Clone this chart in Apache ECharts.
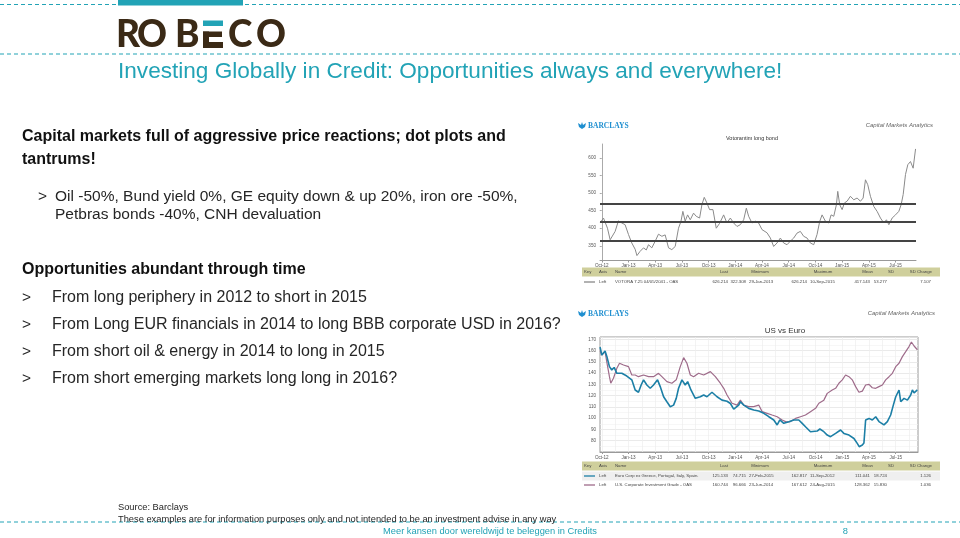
<!DOCTYPE html>
<html><head><meta charset="utf-8">
<script src="https://cdn.jsdelivr.net/npm/echarts@6/dist/echarts.min.js"></script>
<style>html,body{margin:0;padding:0;background:#fff}#c{width:960px;height:538px}</style>
</head><body><div id="c"></div><script>
// x values are months since 1-Oct-2012
const quarterLabels = ['Oct-12','Jan-13','Apr-13','Jul-13','Oct-13','Jan-14','Apr-14','Jul-14','Oct-14','Jan-15','Apr-15','Jul-15'];
const quarterPos = [0,3,6,9,12,15,18,21,24,27,30,33];

// Votorantim long bond (VOTORA 7.25 04/05/2041 - OAS)
const vtX = [-0.19,0.19,0.37,0.64,0.94,1.12,1.5,1.87,2.25,2.62,3.0,3.37,3.75,3.95,4.3,4.69,5.0,5.25,5.62,6.0,6.37,6.75,7.12,7.5,7.87,8.25,8.62,8.89,9.11,9.37,9.64,9.94,10.31,10.61,10.99,11.25,11.51,11.81,12.11,12.49,12.86,13.24,13.69,14.06,14.44,14.81,15.19,15.56,15.94,16.24,16.5,16.87,17.25,17.62,18.0,18.56,18.94,19.31,19.69,20.06,20.43,20.81,21.18,21.56,21.93,22.31,22.68,23.06,23.43,23.81,24.18,24.48,24.75,25.12,25.5,25.76,26.06,26.36,26.51,26.73,27.0,27.26,27.56,27.93,28.31,28.68,29.06,29.36,29.62,29.88,30.18,30.56,30.93,31.31,31.68,31.98,32.25,32.62,33.0,33.37,33.63,33.86,34.12,34.38,34.68,34.98,35.25];
const vtY = [415,429,424,400,367,372,391,421,415,410,382,358,340,322,334,344,338,353,344,363,383,377,381,344,339,348,400,419,448,420,438,424,443,434,429,467,488,472,453,453,400,414,438,415,429,415,405,410,424,457,434,415,420,415,396,387,372,348,358,372,358,353,363,372,386,391,377,372,358,353,382,419,438,420,415,438,434,467,505,467,453,472,477,491,481,486,477,486,538,524,491,462,448,429,415,424,410,429,438,448,467,496,553,581,590,571,626];
const vtMean = 417.143, vtSD = 53.277;

// US vs Euro
const euX = [-0.19,0,0.19,0.37,0.56,0.86,1.12,1.39,1.69,2.25,2.81,3.37,3.75,4.12,4.42,4.69,5.06,5.44,5.81,6.26,6.56,6.94,7.31,7.69,8.06,8.36,8.62,9.0,9.37,9.64,10.01,10.5,11.06,11.44,11.81,12.37,12.94,13.5,14.06,14.44,14.81,15.0,15.37,15.56,15.94,16.5,17.06,17.62,18.19,18.75,19.31,19.69,19.99,20.43,21.0,21.56,22.12,22.5,22.87,23.43,24.18,24.48,24.93,25.31,25.68,26.25,26.81,27.18,27.75,28.31,28.68,28.9,29.25,29.43,29.62,30.0,30.37,30.75,31.12,31.68,32.06,32.43,32.73,33.0,33.37,33.56,33.93,34.31,34.68,34.87,35.06,35.43];
const euY = [163,156,157.6,159.6,155,145.7,142.8,145,139.8,139.8,137.4,134,125,123,129.4,134,129.4,126.5,129.4,134,128,119,114.6,110.2,111.6,117.6,126.5,134,129.4,132.4,125,117.6,119,120.6,119,123,119,116,115,113,108,107.2,111.6,114.6,111.6,108.7,107.2,106.4,104.3,101.3,98.4,94,98.4,95.4,96.9,98.4,98.4,95.4,92.4,88,88.6,90.4,88,85,83.6,86.5,89.5,86.5,85,82,77.6,74.7,76.2,78,98.4,99.8,98.4,101.3,97,94,96.9,102.8,111.6,119,125,114.6,117.6,116,120.6,125,122.5,125.1];
const usX = [-0.19,0,0.37,0.56,0.86,1.01,1.31,1.69,1.99,2.44,3.0,3.37,3.75,4.12,4.69,5.25,5.81,6.37,6.75,7.31,7.87,8.36,8.81,9.19,9.56,9.94,10.31,10.87,11.44,12.19,12.75,13.31,13.69,14.06,14.62,15.19,15.56,15.94,16.5,17.06,17.62,18.0,18.56,19.12,19.69,20.25,20.7,21.18,21.75,22.31,22.87,23.43,24.0,24.37,24.93,25.31,25.87,26.25,26.62,27.0,27.37,27.75,28.12,28.5,28.87,29.25,29.62,30.0,30.37,30.75,31.12,31.5,31.87,32.25,32.62,33.0,33.37,33.75,34.12,34.49,34.76,35.06,35.43];
const usY = [160,156,159,150,136.8,131,135.4,144.2,148.7,147.2,145.7,138.3,138.3,136.8,138.3,136.8,136.8,139.8,136.8,132.4,131,134,145.7,153.7,148.7,138.3,136.8,139.8,138.3,141.3,136.8,131,126.5,120.6,113.2,111.6,116,111.6,110.2,110.2,111.6,105.8,104.3,102.8,101.3,98.4,96.7,97,99.8,101.3,102.8,105.8,108.7,113.2,116,122,125,126.5,131,134,138.3,136.8,134,128,123,124,129.4,130,127,126.5,128,129.4,134,136.8,139.8,145.7,148.7,154.6,159,163.5,167.6,164,160.7];

// statistics tables
const tableHeader = ['Key','Axis','Name','Last','Minimum','Maximum','Mean','SD','SD Change'];
const vtRow = ['Left','VOTORA 7.25 04/05/2041 - OAS','626.214','322.308','29-Jan-2013','626.214','10-Sep-2015','417.143','53.277','7.107'];
const euRow = ['Left','Euro Corp ex Greece, Portugal, Italy, Spain.','125.133','74.715','27-Feb-2015','162.817','11-Sep-2012','111.041','18.724','1.126'];
const usRow = ['Left','U.S. Corporate Investment Grade - OAS','160.744','96.666','23-Jun-2014','167.612','24-Aug-2015','128.362','15.830','1.036'];

const TEAL = '#22a3b6';
const TXT = '#262626';
const FONT = 'Liberation Sans, Arial, sans-serif';
const G = [];
function T(x,y,text,o){o=o||{};G.push({type:'text',x:x,y:y,z:10,style:{text:text,fill:o.fill||TXT,font:(o.style||'')+' '+(o.weight||'normal')+' '+(o.size||15)+'px '+(o.family||FONT),align:o.align||'left',verticalAlign:'middle'}});}
function L(x1,y1,x2,y2,o){o=o||{};G.push({type:'line',z:o.z||5,shape:{x1:x1,y1:y1,x2:x2,y2:y2},style:{stroke:o.stroke||TEAL,lineWidth:o.w||1,lineDash:o.dash||null}});}
function R(x,y,w,h,fill,z){G.push({type:'rect',z:z||4,shape:{x:x,y:y,width:w,height:h},style:{fill:fill}});}

// header decorations
L(0,4.5,960,4.5,{dash:[4,3],w:1.2});
R(118,0,125,5.5,TEAL,6);
L(0,54,960,54,{dash:[4,3],w:1.2});
// ROBECO logo
const LOGO='#3b2a16';
T(116,35,'R',{size:37,weight:'900',fill:LOGO,family:'Lato, sans-serif'});
T(137,35,'O',{size:37,weight:'900',fill:LOGO,family:'Lato, sans-serif'});
T(175,35,'B',{size:37,weight:'900',fill:LOGO,family:'Lato, sans-serif'});
R(203,20.5,20,5.5,TEAL,6);
R(203,31.5,19,5.5,LOGO,6);
R(203,42,20,6,LOGO,6);
R(203,31.5,6,16.5,LOGO,6);
T(228,35,'C',{size:37,weight:'900',fill:LOGO,family:'Lato, sans-serif'});
T(256,35,'O',{size:37,weight:'900',fill:LOGO,family:'Lato, sans-serif'});

T(118,72,'Investing Globally in Credit: Opportunities always and everywhere!',{size:22.6,fill:TEAL});
T(22,137,'Capital markets full of aggressive price reactions; dot plots and',{size:16,weight:'bold',fill:'#111'});
T(22,160,'tantrums!',{size:16,weight:'bold',fill:'#111'});
T(38,197,'>',{size:15.5});
T(55,197,'Oil -50%, Bund yield 0%, GE equity down & up 20%, iron ore -50%,',{size:15.5});
T(55,215,'Petbras bonds -40%, CNH devaluation',{size:15.5});
T(22,270,'Opportunities abundant through time',{size:16,weight:'bold',fill:'#111'});
const bullets=['From long periphery in 2012 to short in 2015','From Long EUR financials in 2014 to long BBB corporate USD in 2016?','From short oil & energy in 2014 to long in 2015','From short emerging markets long long in 2016?'];
bullets.forEach((b,i)=>{T(22,298+i*27,'>',{size:15.5});T(52,298+i*27,b,{size:16});});

// footer
T(118,507,'Source: Barclays',{size:9.3});
L(0,522,960,522,{dash:[4,3],w:1});
T(118,519,'These examples are for information purposes only and not intended to be an investment advise in any way',{size:9.3});
T(597,531,'Meer kansen door wereldwijd te beleggen in Credits',{size:9.3,fill:TEAL,align:'right'});
T(848,531,'8',{size:9.3,fill:TEAL,align:'right'});

// Barclays chart decorations
function barclays(y){
  G.push({type:'polygon',z:10,shape:{points:[[578,y-3],[581,y-1],[582,y-4],[583,y-1],[586,y-3],[585,y+1],[582,y+3],[579,y+1]]},style:{fill:'#1f8fd0'}});
  T(588,y,'BARCLAYS',{size:7.5,weight:'bold',fill:'#1f8fd0',family:'Liberation Serif, serif'});
}
barclays(126); barclays(314);
T(933,125,'Capital Markets Analytics',{size:6,style:'italic',fill:'#666',align:'right'});
T(935,313,'Capital Markets Analytics',{size:6,style:'italic',fill:'#666',align:'right'});
T(752,138,'Votorantim long bond',{size:5.5,fill:'#333',align:'center'});
T(785,331,'US vs Euro',{size:8,fill:'#333',align:'center'});

// tables
const colX = {key:584,axis:599,name:615,last:728,minV:746,minD:749,maxV:807,maxD:810,mean:870,sd:887,sdc:931};
function table(yH, rows, keys){
  R(582,yH-4.5,358,9,'#cfcf9c',4);
  const fs=4.3, c='#444';
  T(colX.key,yH,tableHeader[0],{size:fs,fill:c});
  T(colX.axis,yH,tableHeader[1],{size:fs,fill:c});
  T(colX.name,yH,tableHeader[2],{size:fs,fill:c});
  T(colX.last,yH,tableHeader[3],{size:fs,fill:c,align:'right'});
  T(760,yH,tableHeader[4],{size:fs,fill:c,align:'center'});
  T(823,yH,tableHeader[5],{size:fs,fill:c,align:'center'});
  T(873,yH,tableHeader[6],{size:fs,fill:c,align:'right'});
  T(894,yH,tableHeader[7],{size:fs,fill:c,align:'right'});
  T(932,yH,tableHeader[8],{size:fs,fill:c,align:'right'});
  rows.forEach((r,i)=>{
    const y=yH+10+i*9;
    if(i===0 && rows.length>1) R(582,y-4.5,358,9,'#efefef',3);
    L(584,y,595,y,{stroke:keys[i],w:1.3,z:10});
    T(colX.axis,y,r[0],{size:fs,fill:c});
    T(colX.name,y,r[1],{size:fs,fill:c});
    T(colX.last,y,r[2],{size:fs,fill:c,align:'right'});
    T(colX.minV,y,r[3],{size:fs,fill:c,align:'right'});
    T(colX.minD,y,r[4],{size:fs,fill:c});
    T(colX.maxV,y,r[5],{size:fs,fill:c,align:'right'});
    T(colX.maxD,y,r[6],{size:fs,fill:c});
    T(colX.mean,y,r[7],{size:fs,fill:c,align:'right'});
    T(colX.sd,y,r[8],{size:fs,fill:c,align:'right'});
    T(colX.sdc,y,r[9],{size:fs,fill:c,align:'right'});
  });
}
const EU_C='#1c7fa6', US_C='#9e6b8a';
table(272,[vtRow],['#888']);
table(466,[euRow,usRow],[EU_C,US_C]);

const lbl = v => { const i = quarterPos.indexOf(Math.round(v)); return i>=0 ? quarterLabels[i] : ''; };
const xCommon = (max) => ({type:'value',min:-0.2,max:max,
  axisLine:{show:true,lineStyle:{color:'#999',width:1}},
  axisTick:{show:true,customValues:quarterPos,length:2,lineStyle:{color:'#999'}},
  axisLabel:{customValues:quarterPos,formatter:lbl,fontSize:4.6,color:'#555',margin:3,fontFamily:FONT},
  splitLine:{show:false}});

const vLines = [];
for(let m=0;m<=35;m+=1.5) vLines.push({xAxis:m});

const chart = echarts.init(document.getElementById('c'),null,{renderer:'canvas'});
chart.setOption({
  animation:false,
  graphic:G,
  grid:[
    {left:600,top:144,width:316,height:116.5,show:false},
    {left:600,top:337,width:318,height:115,show:true,borderColor:'#9a9a9a',borderWidth:1}
  ],
  xAxis:[Object.assign(xCommon(35.3),{gridIndex:0}),Object.assign(xCommon(35.5),{gridIndex:1})],
  yAxis:[
    {gridIndex:0,type:'value',min:308,max:640,
     axisLine:{show:true,lineStyle:{color:'#aaa'}},
     axisTick:{show:true,customValues:[350,400,450,500,550,600],length:2,lineStyle:{color:'#aaa'}},
     axisLabel:{customValues:[350,400,450,500,550,600],fontSize:4.6,color:'#555',margin:4,fontFamily:FONT},
     splitLine:{show:false}},
    {gridIndex:1,type:'value',min:70,max:172,interval:10,
     axisLine:{show:false},axisTick:{show:false},
     axisLabel:{customValues:[80,90,100,110,120,130,140,150,160,170],fontSize:4.6,color:'#555',margin:4,fontFamily:FONT},
     splitLine:{show:true,lineStyle:{color:'#e4e4e4',width:0.8}},
     minorTick:{show:false,splitNumber:2},
     minorSplitLine:{show:true,lineStyle:{color:'#f2f2f2',width:0.6}}}
  ],
  series:[
    {type:'line',xAxisIndex:0,yAxisIndex:0,data:vtX.map((x,i)=>[x,vtY[i]]),showSymbol:false,
     lineStyle:{color:'#8a8a8a',width:1},z:3,
     markLine:{silent:true,symbol:'none',label:{show:false},lineStyle:{color:'#444',width:2.2,type:'solid'},
       data:[{yAxis:vtMean+vtSD},{yAxis:vtMean},{yAxis:vtMean-vtSD}]}},
    {type:'line',xAxisIndex:1,yAxisIndex:1,data:usX.map((x,i)=>[x,usY[i]]),showSymbol:false,
     lineStyle:{color:US_C,width:1.2},z:3,
     markLine:{silent:true,symbol:'none',label:{show:false},lineStyle:{color:'#eeeeee',width:0.7,type:'solid'},data:vLines,z:1}},
    {type:'line',xAxisIndex:1,yAxisIndex:1,data:euX.map((x,i)=>[x,euY[i]]),showSymbol:false,
     lineStyle:{color:EU_C,width:1.6},z:4}
  ]
});
</script></body></html>
